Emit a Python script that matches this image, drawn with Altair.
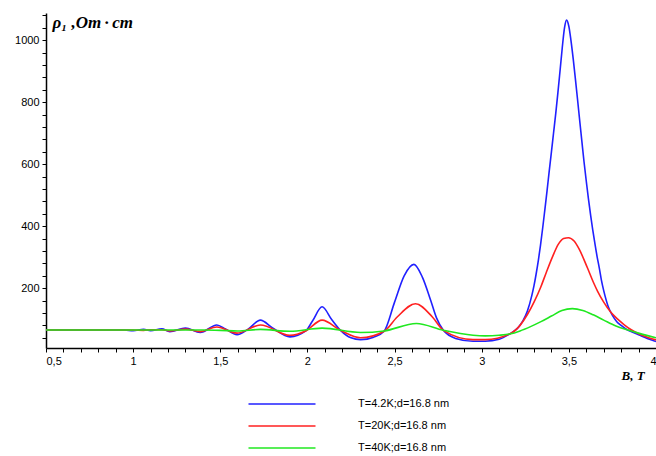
import altair as alt
import pandas as pd

# ---- data ----
series_names = ["T=4.2K;d=16.8 nm", "T=20K;d=16.8 nm", "T=40K;d=16.8 nm"]
series_colors = ["#2020ff", "#ff2020", "#20e820"]

b_42 = [0.5, 0.95, 1.0, 1.06, 1.1, 1.165, 1.21, 1.3, 1.385, 1.48, 1.53, 1.596, 1.66, 1.73,
        1.8, 1.9, 1.99, 2.03, 2.084, 2.14, 2.19, 2.25, 2.305, 2.38, 2.44, 2.5, 2.555, 2.611,
        2.66, 2.707, 2.74, 2.78, 2.85, 2.95, 3.02, 3.1, 3.16, 3.187, 3.212, 3.237, 3.262,
        3.287, 3.3, 3.312, 3.325, 3.337, 3.35, 3.362, 3.375, 3.387, 3.4, 3.412, 3.425, 3.437,
        3.45, 3.462, 3.475, 3.487, 3.5, 3.512, 3.525, 3.537, 3.55, 3.562, 3.575, 3.587, 3.6,
        3.612, 3.625, 3.637, 3.65, 3.662, 3.675, 3.687, 3.7, 3.725, 3.75, 3.775, 3.8, 3.837,
        3.87, 3.9, 3.95, 4.0]
rho_42 = [65, 65, 63, 67, 63, 69, 60, 71, 57, 81, 68, 50, 68, 97,
          72, 43, 62, 95, 140, 98, 64, 40, 34, 42, 61, 155, 240, 277,
          235, 161, 105, 64, 38, 29, 29, 35, 52, 62, 75, 95, 126,
          175, 208, 245, 290, 337, 395, 452, 515, 576, 640, 700, 765, 830,
          905, 975, 1040, 1065, 1045, 1000, 940, 878, 808, 742, 672, 608, 545,
          490, 435, 388, 342, 302, 264, 225, 192, 142, 112, 92, 80, 65,
          57, 50, 38, 28]

b_20 = [0.5, 1.0, 1.06, 1.1, 1.165, 1.21, 1.3, 1.385, 1.48, 1.596, 1.73, 1.9, 1.99, 2.084,
        2.19, 2.305, 2.44, 2.515, 2.62, 2.717, 2.78, 2.95, 3.02, 3.16, 3.22, 3.262, 3.3,
        3.339, 3.37, 3.406, 3.44, 3.47, 3.498, 3.53, 3.56, 3.607, 3.64, 3.665, 3.7, 3.741,
        3.78, 3.818, 3.86, 3.9, 3.95, 4.0]
rho_20 = [65, 65, 64, 66, 66, 62, 68, 60, 75, 55, 81, 48, 62, 97,
          64, 40, 61, 107, 150, 107, 64, 34, 34, 52, 80, 115, 155,
          204, 250, 301, 342, 360, 363, 352, 325, 265, 220, 190, 155, 122,
          100, 82, 65, 53, 42, 33]

b_40 = [0.5, 1.4, 1.5, 1.6, 1.73, 1.9, 2.084, 2.305, 2.44, 2.625, 2.78, 2.95, 3.02, 3.1,
        3.16, 3.22, 3.28, 3.34, 3.4, 3.46, 3.52, 3.58, 3.64, 3.7, 3.77, 3.84, 3.9, 4.0]
rho_40 = [65, 65, 64, 62, 67, 61, 71, 57, 62, 86, 64, 48, 46, 48,
          52, 62, 76, 92, 110, 128, 134, 128, 114, 97, 78, 65, 55, 40]

x_ticks = [round(0.5 + 0.1 * i, 1) for i in range(36)]
y_ticks = list(range(40, 1081, 40))

rows = []
for name, bs, rs in zip(series_names, [b_42, b_20, b_40], [rho_42, rho_20, rho_40]):
    for i, (b, r) in enumerate(zip(bs, rs)):
        rows.append({"B": b, "rho": r, "series": name, "order": i})
df = pd.DataFrame(rows)

x_label_expr = ("abs(datum.value*2 - round(datum.value*2)) < 0.01 ? "
                "replace(format(datum.value, '.1~f'), '.', ',') : ''")
y_label_expr = "datum.value % 200 == 0 ? datum.label : ''"

chart = alt.Chart(df).mark_line(strokeWidth=1.6, interpolate="monotone").encode(
    x=alt.X("B:Q",
            scale=alt.Scale(domain=[0.5, 4.0], nice=False, zero=False),
            axis=alt.Axis(values=x_ticks, labelExpr=x_label_expr, labelOverlap=False,
                          title="B, T", titleX=575, titleY=31, titleAlign="left",
                          titleBaseline="alphabetic", titleFont="Liberation Serif",
                          titleFontStyle="italic", titleFontWeight="bold", titleFontSize=13,
                          labelPadding=3)),
    y=alt.Y("rho:Q",
            scale=alt.Scale(domain=[7, 1088], nice=False, zero=False),
            axis=alt.Axis(values=y_ticks, format="d", labelExpr=y_label_expr, labelOverlap=False,
                          title="\u03c1\u2081 ,Om\u2009\u00b7\u2009cm", titleAngle=0, titleX=6, titleY=14,
                          titleAlign="left", titleBaseline="alphabetic",
                          titleFont="Liberation Serif", titleFontStyle="italic",
                          titleFontWeight="bold", titleFontSize=17, labelPadding=3)),
    color=alt.Color("series:N",
                    scale=alt.Scale(domain=series_names, range=series_colors),
                    legend=alt.Legend(orient="none", legendX=230, legendY=385, title=None,
                                      symbolType="M-6.7,0H6.7", symbolSize=100,
                                      symbolStrokeWidth=1.5, labelOffset=70,
                                      labelFontSize=11, labelFont="Liberation Sans",
                                      labelColor="black", rowPadding=11, padding=0)),
    order="order:Q",
).properties(
    width=610, height=335,
    autosize=alt.AutoSizeParams(type="none"),
    padding={"left": 46, "top": 13, "right": 0, "bottom": 108},
).configure_view(stroke=None).configure_axis(
    grid=False, domainColor="black", domainWidth=1.5, tickColor="black", tickSize=4,
    tickWidth=1, labelFont="Liberation Sans", labelFontSize=11, labelColor="black",
    titleColor="black",
)

chart.save("out.html", embed_options={"renderer": "svg", "actions": False})
